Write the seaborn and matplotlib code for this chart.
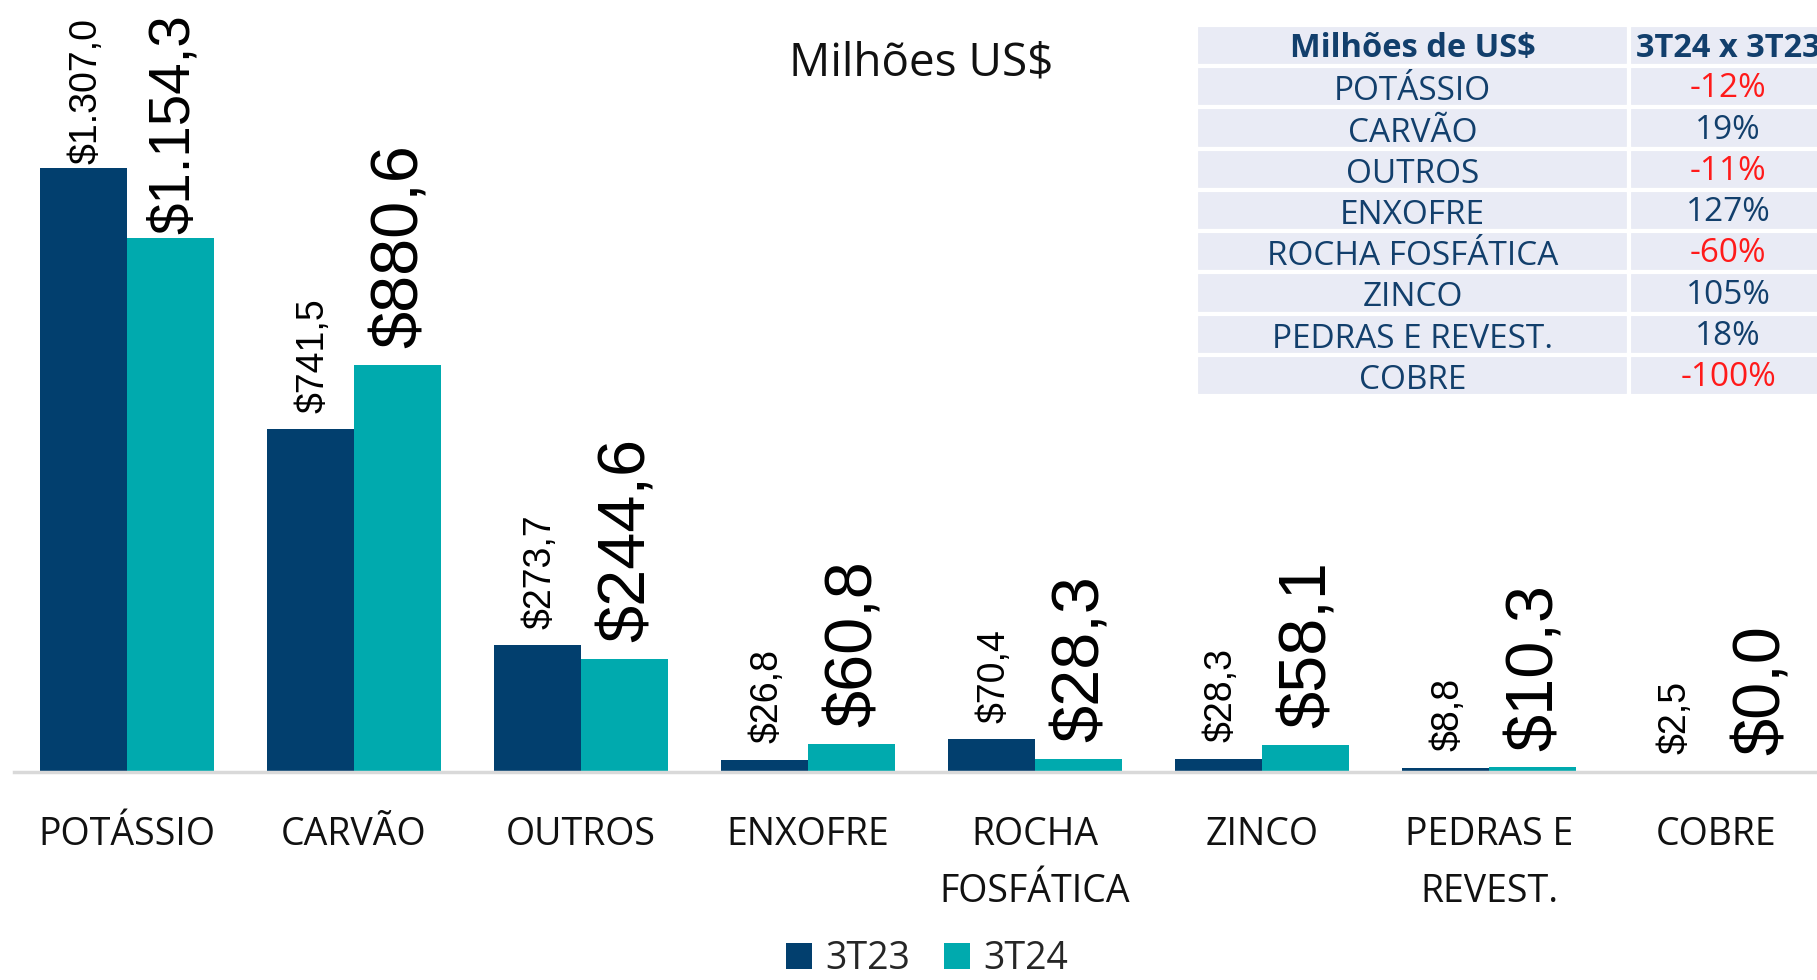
import numpy as np
import pandas as pd
import seaborn as sns
import matplotlib
matplotlib.use("Agg")
import matplotlib.pyplot as plt
from matplotlib.patches import Rectangle

# ---------------- data ----------------
categories = ["POTÁSSIO", "CARVÃO", "OUTROS", "ENXOFRE", "ROCHA\nFOSFÁTICA",
              "ZINCO", "PEDRAS E\nREVEST.", "COBRE"]
series = ["3T23", "3T24"]
values_3t23 = [1307.0, 741.5, 273.7, 26.8, 70.4, 28.3, 8.8, 2.5]
values_3t24 = [1154.3, 880.6, 244.6, 60.8, 28.3, 58.1, 10.3, 0.0]
title = "Milhões US$"
table_header = ["Milhões de US$", "3T24 x 3T23"]
table_rows = ["POTÁSSIO", "CARVÃO", "OUTROS", "ENXOFRE", "ROCHA FOSFÁTICA",
              "ZINCO", "PEDRAS E REVEST.", "COBRE"]
table_changes = [-12, 19, -11, 127, -60, 105, 18, -100]

# ---------------- style ----------------
NAVY = "#023F6E"
TEAL = "#00AAAE"
TABLE_BG = "#E9EBF5"
TABLE_TXT = "#123F6C"
RED = "#FF1A1A"

sns.set_theme(style="white")
plt.rcParams["font.family"] = ["Open Sans", "DejaVu Sans"]

W, H = 1817, 980
fig = plt.figure(figsize=(W / 100, H / 100), dpi=100)

ax_left = 13.5
base_y = 772
top_y = 14
cat_px = 227.0
ax = fig.add_axes([ax_left / W, (H - base_y) / H, (W - ax_left) / W, (base_y - top_y) / H])

df = pd.DataFrame({
    "categoria": categories * 2,
    "periodo": [series[0]] * len(categories) + [series[1]] * len(categories),
    "valor": values_3t23 + values_3t24,
})
sns.barplot(data=df, x="categoria", y="valor", hue="periodo", hue_order=series,
            palette=[NAVY, TEAL], width=0.77, saturation=1, errorbar=None,
            linewidth=0, ax=ax, legend=True)

ax.set_ylim(0, 1640)
ax.set_xlim(-0.5, -0.5 + (W - ax_left) / cat_px)
for s in ["top", "right", "left"]:
    ax.spines[s].set_visible(False)
ax.spines["bottom"].set_color("#D9D9D9")
ax.spines["bottom"].set_linewidth(2.5)
ax.set_yticks([])
ax.set_xlabel("")
ax.set_ylabel("")
ax.tick_params(axis="x", length=0, pad=32, labelsize=27, labelcolor="#111111")
for lbl in ax.get_xticklabels():
    lbl.set_linespacing(1.64)

# value labels
def fmt(v):
    s = f"{v:,.1f}"
    s = s.replace(",", "X").replace(".", ",").replace("X", ".")
    return "$" + s

texts = []
for container, vals, fs in zip(ax.containers, [values_3t23, values_3t24], [27, 48]):
    for bar, v in zip(container, vals):
        t = ax.annotate(fmt(v), xy=(bar.get_x() + bar.get_width() / 2, bar.get_height()),
                        xytext=(2, 12), textcoords="offset points", rotation=90,
                        ha="center", va="bottom", fontsize=fs,
                        family=["Liberation Sans", "DejaVu Sans"], color="black")
        texts.append(t)

# legend
handles, labels = ax.get_legend_handles_labels()
if ax.get_legend() is not None:
    ax.get_legend().remove()
fig.legend(handles, labels, loc="center", bbox_to_anchor=(927 / W, 1 - 959 / H),
           ncol=2, frameon=False, fontsize=27, handlelength=0.7, handleheight=0.7,
           handletextpad=0.35, columnspacing=0.9, borderpad=0.1)

# title
fig.text(921 / W, 1 - 64 / H, title, ha="center", va="center", fontsize=33, color="#111111")

# table
tx0, tx1 = 1196, 1827
ty0, ty1 = 25, 396
tab = fig.add_axes([tx0 / W, 1 - ty1 / H, (tx1 - tx0) / W, (ty1 - ty0) / H])
tab.set_xlim(0, tx1 - tx0)
nrows = len(table_rows) + 1
tab.set_ylim(nrows, 0)
tab.axis("off")
col_edges = [0, 433, tx1 - tx0]
for r in range(nrows):
    for c in range(2):
        tab.add_patch(Rectangle((col_edges[c], r), col_edges[c + 1] - col_edges[c], 1,
                                facecolor=TABLE_BG, edgecolor="white", linewidth=3))
for c in range(2):
    tab.text((col_edges[c] + col_edges[c + 1]) / 2, 0.58, table_header[c], ha="center",
             va="center", fontsize=23.5, fontweight="bold", color=TABLE_TXT)
for r, (name, ch) in enumerate(zip(table_rows, table_changes), start=1):
    tab.text((col_edges[0] + col_edges[1]) / 2, r + 0.62, name, ha="center", va="center",
             fontsize=24, color=TABLE_TXT)
    tab.text((col_edges[1] + col_edges[2]) / 2, r + 0.55, f"{ch}%",
             ha="center", va="center", fontsize=24,
             color=RED if ch < 0 else TABLE_TXT)

# keep value labels inside the figure: shrink the ones that would not fit
fig.canvas.draw()
renderer = fig.canvas.get_renderer()
limit = H - 14
for t in texts:
    bb = t.get_window_extent(renderer)
    if bb.y1 > limit:
        dx, dy = t.xyann
        t.xyann = (dx, 3)
        fig.canvas.draw()
        bb = t.get_window_extent(renderer)
        span = bb.y1 - bb.y0
        avail = limit - bb.y0
        if span > avail:
            t.set_fontsize(t.get_fontsize() * avail / span)

fig.savefig("out.png", dpi=100)
